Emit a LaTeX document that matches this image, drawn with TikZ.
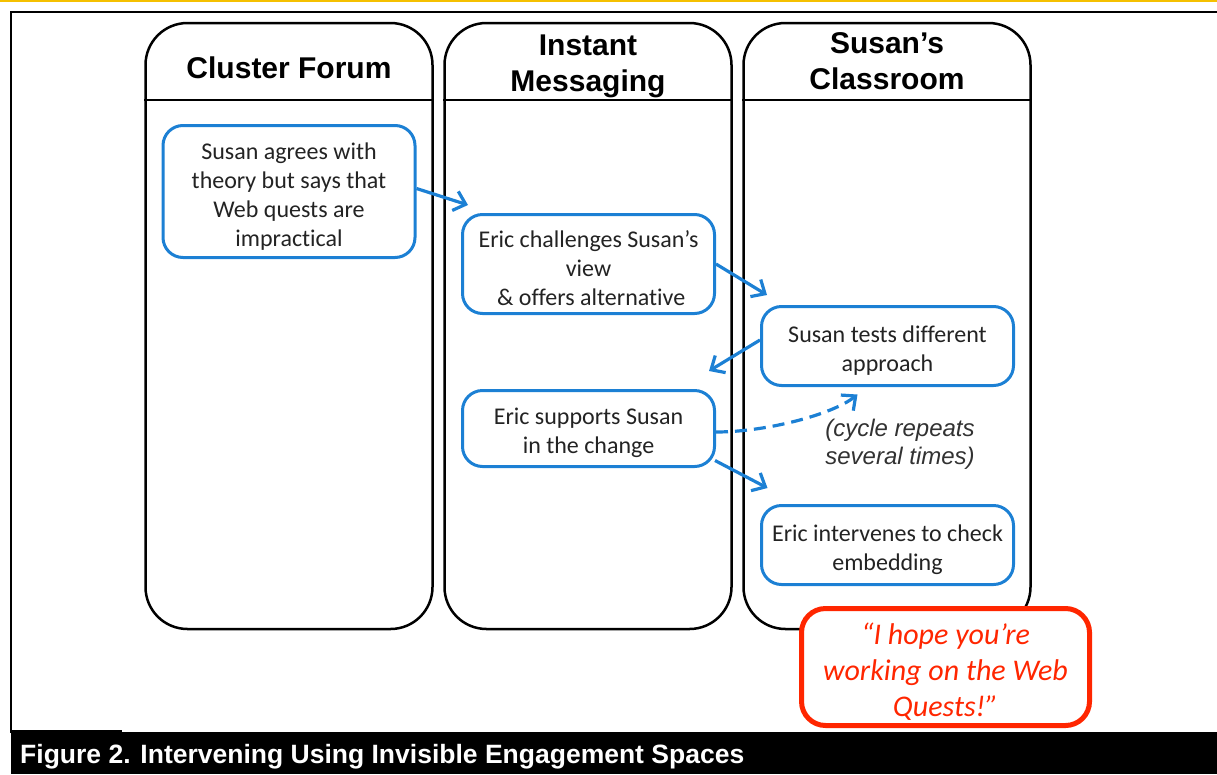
\documentclass[tikz,border=0pt]{standalone}
\usepackage{fontspec}
\setmainfont{Carlito}[Ligatures=NoCommon]
\newfontfamily\headfont{Liberation Sans}
\usetikzlibrary{arrows.meta}

\definecolor{flowblue}{RGB}{28,128,212}
\definecolor{quotered}{RGB}{255,38,0}
\definecolor{rulegold}{RGB}{245,192,0}
\definecolor{boxtext}{RGB}{35,35,35}
\definecolor{notetext}{RGB}{50,50,50}

\newcommand{\evstrut}{\rule{0pt}{26pt}}

\tikzset{
  lane/.style={draw, line width=2.5pt, rounded corners=42pt, minimum width=287pt, minimum height=606pt, inner sep=0pt},
  lanetitle/.style={font=\headfont\bfseries\fontsize{30}{36}\selectfont, align=center, inner sep=0pt},
  event/.style={draw=flowblue, line width=3pt, rounded corners=20pt, fill=white, text=boxtext, align=center, font=\fontsize{24}{29}\selectfont, minimum width=252pt, inner sep=0pt},
  flow/.style={flowblue, line width=3.2pt, -{Straight Barb[length=11pt,width=20pt]}},
}

\begin{document}
\begin{tikzpicture}[x=1pt,y=-1pt]
  \useasboundingbox (0,0) rectangle (1217,774);
  % Frame and caption bar
  \draw [rulegold, line width=2pt] (0,1) -- (1217,1);
  \draw [line width=2pt] (1217,12) -- (11,12) -- (11,733);
  \fill (11,732) rectangle (1217,774);
  \fill (11,730) rectangle (122,732);
  \node [anchor=base west, text=white, inner sep=0pt, font=\headfont\bfseries\fontsize{26.5}{30}\selectfont] (caption) at (20,763) {Figure 2. Intervening Using Invisible Engagement Spaces};
  % Lanes
  \node [lane] (lane1) at (289,326) {};
  \node [lane] (lane2) at (588,326) {};
  \node [lane] (lane3) at (887,326) {};
  \draw [line width=2pt] ([yshift=-78pt]lane1.north west) -- ([yshift=-78pt]lane1.north east);
  \draw [line width=2pt] ([yshift=-78pt]lane2.north west) -- ([yshift=-78pt]lane2.north east);
  \draw [line width=2pt] ([yshift=-78pt]lane3.north west) -- ([yshift=-78pt]lane3.north east);
  \node [lanetitle] (title1) at (289,67.5) {Cluster Forum};
  \node [lanetitle] (title2) at (588,66) {Instant\\Messaging};
  \node [lanetitle] (title3) at (887,61.5) {Susan’s\\Classroom};
  % Events
  \node [event, minimum height=132pt] (agree) at (289,191.5) {\evstrut Susan agrees with\\theory but says that\\Web quests are\\impractical};
  \node [event, minimum height=99pt] (challenge) at (588.5,264) {\evstrut Eric challenges Susan’s\\view\\\ \& offers alternative};
  \node [event, minimum height=79pt] (tests) at (887.5,346) {\evstrut Susan tests different\\approach};
  \node [event, minimum height=76pt] (supports) at (588.5,428.5) {\evstrut Eric supports Susan\\in the change};
  \node [event, minimum height=79pt] (intervenes) at (887.5,545) {\evstrut Eric intervenes to check\\embedding};
  \node [font=\headfont\itshape\fontsize{24}{28}\selectfont, text=notetext, align=center, inner sep=0pt] (note) at (900,444) {(cycle repeats\\several times)};
  % Flow
  \draw [flow] ([yshift=3pt]agree.east) -- ([xshift=7pt,yshift=8pt]challenge.north west);
  \draw [flow] (challenge.east) -- ([xshift=7pt,yshift=10pt]tests.north west);
  \draw [flow] ([yshift=6pt]tests.west) -- ([xshift=-7pt,yshift=18pt]supports.north east);
  \draw [flow] ([xshift=-1pt,yshift=7.5pt]supports.south east) -- ([xshift=7.5pt,yshift=16pt]intervenes.north west);
  \draw [flow, dash pattern=on 12pt off 7pt] ([yshift=-3.5pt]supports.east) .. controls +(50,0) and +(-25,20) .. ([xshift=-30pt,yshift=-7.5pt]tests.south);
  % Quote
  \node [draw=quotered, line width=5pt, rounded corners=24pt, fill=white, text=quotered, align=center, minimum width=288pt, minimum height=117pt, inner sep=0pt, font=\itshape\fontsize{30}{36}\selectfont] (quote) at (945.5,667) {\rule{0pt}{30pt}“I hope you’re\\working on the Web\\Quests!”};
\end{tikzpicture}
\end{document}
